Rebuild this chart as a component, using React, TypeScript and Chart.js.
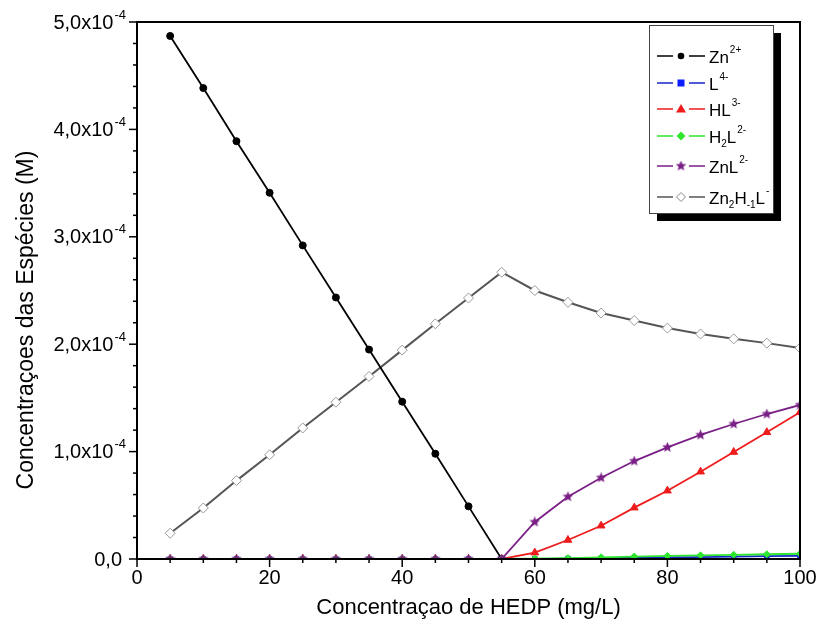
import React, { useEffect, useRef } from "react";
import { Chart, registerables } from "chart.js";

Chart.register(...registerables);

const xValues = [5, 10, 15, 20, 25, 30, 35, 40, 45, 50, 55, 60, 65, 70, 75, 80, 85, 90, 95, 100];
const zn2 = [4.87, 4.385, 3.89, 3.41, 2.92, 2.435, 1.95, 1.465, 0.98, 0.49, 0.0, null, null, null, null, null, null, null, null, null];
const l4 = [0, 0, 0, 0, 0, 0, 0, 0, 0, 0, 0, 0.002, 0.004, 0.007, 0.01, 0.014, 0.018, 0.022, 0.026, 0.03];
const hl3 = [0, 0, 0, 0, 0, 0, 0, 0, 0, 0, 0, 0.059, 0.177, 0.31, 0.478, 0.636, 0.813, 0.996, 1.18, 1.366];
const h2l2 = [0, 0, 0, 0, 0, 0, 0, 0, 0, 0, 0, 0.003, 0.008, 0.016, 0.023, 0.029, 0.034, 0.039, 0.044, 0.049];
const znl2 = [0, 0, 0, 0, 0, 0, 0, 0, 0, 0, 0, 0.345, 0.58, 0.757, 0.912, 1.04, 1.155, 1.257, 1.35, 1.434];
const zn2h = [0.24, 0.475, 0.73, 0.97, 1.22, 1.46, 1.7, 1.945, 2.19, 2.43, 2.67, 2.5, 2.39, 2.29, 2.22, 2.15, 2.095, 2.05, 2.01, 1.965];
const scaleFactor = 1e-4;
const yTickValues = [0, 1, 2, 3, 4, 5];
const yTickMain = ["0,0", "1,0x10", "2,0x10", "3,0x10", "4,0x10", "5,0x10"];
const yTickSup = ["", "-4", "-4", "-4", "-4", "-4"];
const xTitle = "Concentraçao de HEDP (mg/L)";
const yTitle = "Concentraçoes das Espécies (M)";

const FONT = "'Liberation Sans', Arial, sans-serif";

type Seg = { t: string; k?: "sup" | "sub" };
const legendLabels: Seg[][] = [
  [{ t: "Zn" }, { t: "2+", k: "sup" }],
  [{ t: "L" }, { t: "4-", k: "sup" }],
  [{ t: "HL" }, { t: "3-", k: "sup" }],
  [{ t: "H" }, { t: "2", k: "sub" }, { t: "L" }, { t: "2-", k: "sup" }],
  [{ t: "ZnL" }, { t: "2-", k: "sup" }],
  [{ t: "Zn" }, { t: "2", k: "sub" }, { t: "H" }, { t: "-1", k: "sub" }, { t: "L" }, { t: "-", k: "sup" }],
];

function makeStar(color: string, size: number) {
  const c = document.createElement("canvas");
  c.width = size;
  c.height = size;
  const g = c.getContext("2d")!;
  const cx = size / 2, cy = size / 2, R = size / 2, r = R * 0.45;
  g.beginPath();
  for (let i = 0; i < 10; i++) {
    const a = -Math.PI / 2 + (i * Math.PI) / 5;
    const rr = i % 2 === 0 ? R : r;
    const px = cx + rr * Math.cos(a), py = cy + rr * Math.sin(a);
    if (i === 0) g.moveTo(px, py); else g.lineTo(px, py);
  }
  g.closePath();
  g.fillStyle = color;
  g.fill();
  return c;
}

export default function App() {
  const ref = useRef<HTMLCanvasElement | null>(null);
  useEffect(() => {
    if (!ref.current) return;
    const star = makeStar("#7a1f86", 11);
    const toPts = (arr: (number | null)[]) => xValues.map((x, i) => ({ x, y: arr[i] === null ? null : (arr[i] as number) * scaleFactor }));

    const styles = [
      { color: "#000000", style: "circle", fill: "#000000" },
      { color: "#1428c8", style: "rect", fill: "#0a1eff" },
      { color: "#ee1c1c", style: "triangle", fill: "#ee1c1c" },
      { color: "#2ee62e", style: "rectRot", fill: "#2ee62e" },
      { color: "#7a1f86", style: "star", fill: "#7a1f86" },
      { color: "#555555", style: "rectRot", fill: "#ffffff" },
    ];

    const framePlugin = {
      id: "frame",
      afterDraw(chart: any) {
        const ctx = chart.ctx;
        const a = chart.chartArea;
        const xs = chart.scales.x;
        const ys = chart.scales.y;
        ctx.save();
        ctx.strokeStyle = "#000";
        ctx.lineWidth = 2;
        ctx.strokeRect(a.left, a.top, a.right - a.left, a.bottom - a.top);
        ctx.lineWidth = 1.5;
        for (let v = 0; v <= 100; v += 5) {
          const px = xs.getPixelForValue(v);
          const len = v % 20 === 0 ? 8 : 4;
          ctx.beginPath();
          ctx.moveTo(px, a.bottom);
          ctx.lineTo(px, a.bottom + len);
          ctx.stroke();
        }
        for (let i = 0; i <= 25; i++) {
          const v = (i * 0.2) * scaleFactor;
          const py = ys.getPixelForValue(v);
          const len = i % 5 === 0 ? 8 : 4;
          ctx.beginPath();
          ctx.moveTo(a.left, py);
          ctx.lineTo(a.left - len, py);
          ctx.stroke();
        }
        ctx.fillStyle = "#000";
        ctx.textBaseline = "middle";
        yTickValues.forEach((v, i) => {
          const py = ys.getPixelForValue(v * scaleFactor);
          const right = a.left - 11;
          ctx.font = `13px ${FONT}`;
          const sw = yTickSup[i] ? ctx.measureText(yTickSup[i]).width : 0;
          ctx.textAlign = "right";
          if (yTickSup[i]) ctx.fillText(yTickSup[i], right, py - 7);
          ctx.font = `20px ${FONT}`;
          ctx.fillText(yTickMain[i], right - sw - (sw ? 1 : 4), py + 1);
        });

        // y title
        ctx.save();
        ctx.translate(27, 320);
        ctx.rotate(-Math.PI / 2);
        ctx.font = `23px ${FONT}`;
        ctx.textAlign = "center";
        ctx.textBaseline = "middle";
        ctx.fillText(yTitle, 0, 0);
        ctx.restore();

        // legend
        const bx = 649, by = 25, bw = 124, bh = 188;
        ctx.fillStyle = "#000";
        ctx.fillRect(bx + 8, by + 8, bw, bh);
        ctx.fillStyle = "#fff";
        ctx.fillRect(bx, by, bw, bh);
        ctx.strokeStyle = "#444";
        ctx.lineWidth = 1;
        ctx.strokeRect(bx + 0.5, by + 0.5, bw, bh);
        const rows = [56, 83, 109, 136, 166, 197];
        rows.forEach((ry, i) => {
          const st = styles[i];
          ctx.strokeStyle = st.color;
          ctx.lineWidth = 1.5;
          ctx.beginPath();
          ctx.moveTo(657, ry); ctx.lineTo(673, ry);
          ctx.moveTo(689, ry); ctx.lineTo(705, ry);
          ctx.stroke();
          const mx = 681;
          ctx.fillStyle = st.fill;
          ctx.strokeStyle = st.color;
          ctx.lineWidth = 1;
          if (st.style === "circle") {
            ctx.beginPath(); ctx.arc(mx, ry, 3.3, 0, Math.PI * 2); ctx.fill();
          } else if (st.style === "rect") {
            ctx.fillRect(mx - 3.5, ry - 3.5, 7, 7);
          } else if (st.style === "triangle") {
            ctx.beginPath(); ctx.moveTo(mx, ry - 5); ctx.lineTo(mx + 5, ry + 3.5); ctx.lineTo(mx - 5, ry + 3.5); ctx.closePath(); ctx.fill();
          } else if (st.style === "rectRot") {
            ctx.beginPath(); ctx.moveTo(mx, ry - 4.5); ctx.lineTo(mx + 4.5, ry); ctx.lineTo(mx, ry + 4.5); ctx.lineTo(mx - 4.5, ry); ctx.closePath(); ctx.fill();
            if (i === 5) { ctx.strokeStyle = "#888"; ctx.stroke(); }
          } else if (st.style === "star") {
            ctx.drawImage(star, mx - 5.5, ry - 5.5);
          }
          let tx = 709;
          ctx.fillStyle = "#000";
          ctx.textAlign = "left";
          ctx.textBaseline = "alphabetic";
          legendLabels[i].forEach((seg) => {
            if (seg.k === "sup") {
              ctx.font = `10px ${FONT}`;
              ctx.fillText(seg.t, tx + 1, ry - 3);
            } else if (seg.k === "sub") {
              ctx.font = `10px ${FONT}`;
              ctx.fillText(seg.t, tx, ry + 11);
            } else {
              ctx.font = `17px ${FONT}`;
              ctx.fillText(seg.t, tx, ry + 7);
            }
            tx += ctx.measureText(seg.t).width + (seg.k === "sup" ? 1 : 0);
          });
        });
        ctx.restore();
      },
    };

    const mk = (label: string, data: any, i: number, order: number) => {
      const st = styles[i];
      return {
        label,
        data,
        borderColor: st.color,
        backgroundColor: st.fill,
        borderWidth: i === 5 ? 2 : 1.8,
        pointStyle: st.style === "star" ? star : st.style,
        pointRadius: st.style === "triangle" ? 4.5 : st.style === "rect" ? 3.2 : i === 5 ? 5 : 3.5,
        pointBorderColor: i === 5 ? "#999999" : st.color,
        pointBackgroundColor: st.fill,
        pointBorderWidth: 1,
        order,
        spanGaps: false,
      };
    };

    const chart = new Chart(ref.current, {
      type: "line",
      data: {
        datasets: [
          mk("Zn2+", toPts(zn2), 0, 5),
          mk("L4-", toPts(l4), 1, 4),
          mk("HL3-", toPts(hl3), 2, 3),
          mk("H2L2-", toPts(h2l2), 3, 2),
          mk("ZnL2-", toPts(znl2), 4, 1),
          mk("Zn2H-1L-", toPts(zn2h), 5, 6),
        ] as any,
      },
      options: {
        animation: false,
        responsive: true,
        maintainAspectRatio: false,
        layout: { padding: { top: 22, right: 18, left: 0, bottom: 0 } },
        plugins: { legend: { display: false }, tooltip: { enabled: false } },
        scales: {
          x: {
            type: "linear",
            min: 0,
            max: 100,
            ticks: { stepSize: 20, color: "#000", font: { family: FONT, size: 20 }, padding: 7 },
            grid: { display: false, drawTicks: false },
            border: { display: false },
            title: { display: true, text: xTitle, color: "#000", font: { family: FONT, size: 22 }, padding: { top: 0, bottom: 8 } },
            afterFit: (s: any) => { s.height = 70; s.paddingLeft = 0; s.paddingRight = 0; },
          },
          y: {
            type: "linear",
            min: 0,
            max: 5e-4,
            ticks: { stepSize: 1e-4, display: false },
            grid: { display: false, drawTicks: false },
            border: { display: false },
            title: { display: false },
            afterFit: (s: any) => { s.width = 137; s.paddingTop = 0; s.paddingBottom = 0; },
          },
        },
      },
      plugins: [framePlugin],
    });
    return () => chart.destroy();
  }, []);
  return (
    <div style={{ position: "absolute", left: 0, top: 0, width: 818, height: 629, background: "#fff" }}>
      <canvas ref={ref} />
    </div>
  );
}
